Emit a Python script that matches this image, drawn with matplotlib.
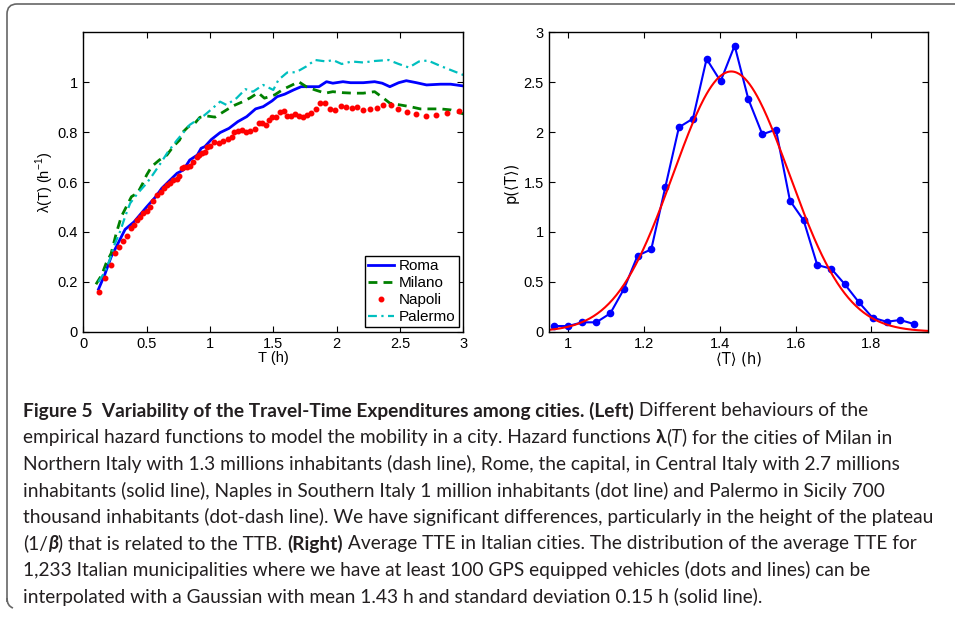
import numpy as np
import matplotlib
matplotlib.use('Agg')
import matplotlib.pyplot as plt
from matplotlib import font_manager
from matplotlib.path import Path
from matplotlib.patches import PathPatch

# hazard functions lambda(T)
roma_t = [0.12, 0.17, 0.22, 0.28, 0.33, 0.40, 0.45, 0.50, 0.57, 0.62,
          0.66, 0.74, 0.79, 0.84, 0.90, 0.93, 0.96, 1.01, 1.08, 1.15,
          1.22, 1.29, 1.36, 1.42, 1.49, 1.53, 1.59, 1.66, 1.72, 1.80,
          1.86, 1.92, 1.97, 2.05, 2.11, 2.21, 2.30, 2.36, 2.42, 2.49,
          2.55, 2.63, 2.71, 2.82, 2.90, 3.00]
roma_l = [0.17, 0.23, 0.30, 0.36, 0.41, 0.44, 0.47, 0.50, 0.54, 0.575,
          0.595, 0.635, 0.648, 0.688, 0.708, 0.735, 0.742, 0.77, 0.798, 0.815,
          0.842, 0.862, 0.893, 0.902, 0.925, 0.942, 0.952, 0.969, 0.982, 0.982,
          0.982, 1.002, 0.996, 1.002, 0.998, 0.998, 1.002, 0.996, 0.982, 0.998,
          1.006, 0.998, 0.989, 0.992, 0.992, 0.985]

milano_t = [0.10, 0.145, 0.18, 0.22, 0.26, 0.30, 0.34, 0.38, 0.43, 0.47,
            0.50, 0.54, 0.60, 0.66, 0.71, 0.76, 0.79, 0.83, 0.88, 0.92,
            0.97, 1.04, 1.08, 1.15, 1.20, 1.26, 1.32, 1.38, 1.43, 1.51,
            1.58, 1.65, 1.70, 1.76, 1.83, 1.91, 1.97, 2.05, 2.13, 2.21,
            2.30, 2.37, 2.42, 2.50, 2.58, 2.66, 2.74, 2.82, 2.90, 3.00]
milano_l = [0.19, 0.227, 0.274, 0.314, 0.394, 0.461, 0.501, 0.541, 0.557, 0.595,
            0.628, 0.662, 0.688, 0.708, 0.742, 0.768, 0.802, 0.822, 0.835, 0.859,
            0.865, 0.86, 0.873, 0.895, 0.909, 0.922, 0.938, 0.958, 0.936, 0.949,
            0.972, 0.989, 1.002, 0.982, 0.969, 0.956, 0.962, 0.958, 0.956, 0.956,
            0.962, 0.936, 0.916, 0.909, 0.902, 0.893, 0.893, 0.893, 0.889, 0.873]

napoli_t = [0.124, 0.171, 0.216, 0.253, 0.284, 0.311, 0.342, 0.374, 0.40, 0.426,
            0.447, 0.474, 0.50, 0.526, 0.553, 0.584, 0.613, 0.639, 0.663, 0.684,
            0.711, 0.737, 0.758, 0.776, 0.797, 0.821, 0.842, 0.868, 0.895, 0.916,
            0.937, 0.958, 0.979, 1.0, 1.035, 1.071, 1.106, 1.145, 1.172, 1.193,
            1.224, 1.256, 1.282, 1.316, 1.356, 1.387, 1.413, 1.44, 1.466, 1.492,
            1.524, 1.55, 1.582, 1.608, 1.639, 1.671, 1.703, 1.735, 1.766, 1.798,
            1.835, 1.871, 1.908, 1.948, 1.987, 2.032, 2.074, 2.119, 2.163, 2.21,
            2.263, 2.316, 2.369, 2.426, 2.487, 2.558, 2.626, 2.705, 2.784, 2.874,
            2.968]
napoli_l = [0.16, 0.217, 0.267, 0.314, 0.341, 0.364, 0.384, 0.414, 0.428, 0.446,
            0.461, 0.474, 0.485, 0.501, 0.524, 0.547, 0.561, 0.577, 0.588, 0.595,
            0.608, 0.611, 0.624, 0.655, 0.659, 0.662, 0.664, 0.682, 0.702, 0.708,
            0.715, 0.722, 0.742, 0.744, 0.762, 0.755, 0.765, 0.771, 0.782, 0.802,
            0.806, 0.809, 0.802, 0.806, 0.811, 0.835, 0.838, 0.829, 0.849, 0.862,
            0.862, 0.882, 0.886, 0.865, 0.865, 0.873, 0.865, 0.859, 0.869, 0.878,
            0.891, 0.915, 0.915, 0.893, 0.889, 0.906, 0.902, 0.895, 0.899, 0.889,
            0.891, 0.898, 0.909, 0.909, 0.891, 0.882, 0.871, 0.865, 0.87, 0.878,
            0.886]

palermo_t = [0.12, 0.17, 0.21, 0.24, 0.29, 0.33, 0.37, 0.43, 0.50, 0.55,
             0.61, 0.67, 0.74, 0.79, 0.84, 0.90, 0.95, 0.99, 1.08, 1.13,
             1.21, 1.28, 1.34, 1.42, 1.50, 1.54, 1.61, 1.68, 1.76, 1.83,
             1.92, 1.97, 2.04, 2.12, 2.21, 2.30, 2.41, 2.49, 2.57, 2.65,
             2.72, 2.82, 2.91, 3.00]
palermo_l = [0.20, 0.24, 0.29, 0.341, 0.401, 0.461, 0.515, 0.555, 0.595, 0.63,
             0.675, 0.722, 0.768, 0.798, 0.829, 0.849, 0.865, 0.882, 0.922, 0.909,
             0.936, 0.972, 0.962, 0.989, 0.969, 1.009, 1.039, 1.04, 1.063, 1.089,
             1.083, 1.089, 1.073, 1.083, 1.079, 1.085, 1.089, 1.073, 1.059, 1.083,
             1.087, 1.065, 1.047, 1.029]

# distribution of the average TTE, right panel
tte_x = [0.963, 1.0, 1.037, 1.074, 1.111, 1.147, 1.183, 1.219, 1.256, 1.292,
         1.329, 1.365, 1.402, 1.439, 1.475, 1.512, 1.548, 1.585, 1.621, 1.657,
         1.694, 1.73, 1.767, 1.803, 1.84, 1.876, 1.912]
tte_p = [0.057, 0.057, 0.094, 0.094, 0.184, 0.428, 0.762, 0.825, 1.447, 2.048,
         2.135, 2.733, 2.509, 2.867, 2.332, 1.978, 2.025, 1.313, 1.116, 0.668,
         0.631, 0.474, 0.294, 0.14, 0.1, 0.117, 0.077]
gauss_mean = 1.43
gauss_sd = 0.153

# fonts
installed = set(f.name for f in font_manager.fontManager.ttflist)
plot_font = 'Liberation Sans' if 'Liberation Sans' in installed else 'DejaVu Sans'
cap_font = 'Lato' if 'Lato' in installed else 'Open Sans'
plt.rcParams['font.family'] = [plot_font, 'DejaVu Sans']
plt.rcParams['mathtext.fontset'] = 'custom'
plt.rcParams['mathtext.rm'] = plot_font

W, H = 955, 621
fig = plt.figure(figsize=(W / 100, H / 100), dpi=100)

def px_axes(x0, y0, x1, y1):
    return fig.add_axes([x0 / W, 1 - y1 / H, (x1 - x0) / W, (y1 - y0) / H])

def matlab_look(ax):
    ax.tick_params(direction='in', top=True, right=True, length=4, width=0.8,
                   labelsize=10.5, pad=4, colors='black')
    for s in ax.spines.values():
        s.set_linewidth(1.0)
        s.set_color('black')

# ---- left panel ----
ax1 = px_axes(83.3, 32.3, 463.3, 331.7)
ax1.plot(roma_t, roma_l, '-', color='#0000ff', lw=2.0, label='Roma')
ax1.plot(milano_t, milano_l, '--', color='#008000', lw=2.0, dashes=(3.2, 2.2), label='Milano')
ax1.plot(napoli_t, napoli_l, '.', color='#ff0000', ms=6.5, label='Napoli')
ax1.plot(palermo_t, palermo_l, '-.', color='#00bfbf', lw=1.6, dashes=(4, 2, 1, 2), label='Palermo')
ax1.set_xlim(0, 3)
ax1.set_ylim(0, 1.2)
ax1.set_xticks([0, 0.5, 1, 1.5, 2, 2.5, 3])
ax1.set_xticklabels(['0', '0.5', '1', '1.5', '2', '2.5', '3'])
ax1.set_yticks([0, 0.2, 0.4, 0.6, 0.8, 1])
ax1.set_yticklabels(['0', '0.2', '0.4', '0.6', '0.8', '1'])
ax1.set_xlabel('T (h)', fontsize=10.5, labelpad=0)
ax1.set_ylabel(r'λ(T) (h$^{-1}$)', fontsize=10.5, labelpad=1)
matlab_look(ax1)
leg = ax1.legend(loc='lower right', fontsize=11, numpoints=1, handlelength=1.7,
                 handletextpad=0.3, labelspacing=0.2, borderpad=0.2,
                 borderaxespad=0.3, fancybox=False, framealpha=1, edgecolor='black')
leg.get_frame().set_linewidth(1.0)

# ---- right panel ----
ax2 = px_axes(549.3, 32.3, 928.3, 331.7)
gx = np.linspace(0.95, 1.95, 300)
gy = np.exp(-0.5 * ((gx - gauss_mean) / gauss_sd) ** 2) / (gauss_sd * np.sqrt(2 * np.pi))
ax2.plot(tte_x, tte_p, '-o', color='#0000ff', lw=1.5, ms=4.5)
ax2.plot(gx, gy, '-', color='#ff0000', lw=1.5)
ax2.set_xlim(0.95, 1.95)
ax2.set_ylim(0, 3)
ax2.set_xticks([1, 1.2, 1.4, 1.6, 1.8])
ax2.set_xticklabels(['1', '1.2', '1.4', '1.6', '1.8'])
ax2.set_yticks([0, 0.5, 1, 1.5, 2, 2.5, 3])
ax2.set_yticklabels(['0', '0.5', '1', '1.5', '2', '2.5', '3'])
ax2.set_xlabel('⟨T⟩ (h)', fontsize=10.5, labelpad=0, family=['DejaVu Sans'])
ax2.set_ylabel('p(⟨T⟩)', fontsize=10.5, labelpad=3.5, family=['DejaVu Sans'])
matlab_look(ax2)

# ---- rounded frame around figure + caption ----
r = 10
verts = [(7, 602), (7, 598), (7, 4 + r), (7, 4), (7 + r, 4), (W + 5, 4)]
codes = [Path.MOVETO, Path.LINETO, Path.LINETO, Path.CURVE3, Path.CURVE3, Path.LINETO]
verts = [(x / W, 1 - y / H) for x, y in verts]
fig.patches.append(PathPatch(Path(verts, codes), fill=False, edgecolor='#666666',
                             lw=1.2, transform=fig.transFigure))
hook = [(7, 598), (7, 606), (13, 608)]
hook = [(x / W, 1 - y / H) for x, y in hook]
fig.patches.append(PathPatch(Path(hook, [Path.MOVETO, Path.CURVE3, Path.CURVE3]),
                             fill=False, edgecolor='#666666', lw=1.2,
                             transform=fig.transFigure))

N, B = 'normal', 'bold'
caption = [
    [('Figure 5  Variability of the Travel-Time Expenditures among cities. (Left)', B, 'normal'),
     (' Different behaviours of the', N, 'normal')],
    [('empirical hazard functions to model the mobility in a city. Hazard functions ', N, 'normal'),
     ('λ', B, 'normal'), ('(', N, 'normal'), ('T', N, 'italic'),
     (') for the cities of Milan in', N, 'normal')],
    [('Northern Italy with 1.3 millions inhabitants (dash line), Rome, the capital, in Central Italy with 2.7 millions', N, 'normal')],
    [('inhabitants (solid line), Naples in Southern Italy 1 million inhabitants (dot line) and Palermo in Sicily 700', N, 'normal')],
    [('thousand inhabitants (dot-dash line). We have significant differences, particularly in the height of the plateau', N, 'normal')],
    [('(1/', N, 'normal'), ('β', B, 'italic'), (') that is related to the TTB. ', N, 'normal'),
     ('(Right)', B, 'normal'),
     (' Average TTE in Italian cities. The distribution of the average TTE for', N, 'normal')],
    [('1,233 Italian municipalities where we have at least 100 GPS equipped vehicles (dots and lines) can be', N, 'normal')],
    [('interpolated with a Gaussian with mean 1.43 h and standard deviation 0.15 h (solid line).', N, 'normal')],
]
line_y = [411, 437.5, 464, 490.5, 517, 543.5, 570, 596.5]

renderer = fig.canvas.get_renderer()

# size the caption font so the longest line spans like the original (23 -> 931 px)
probe = fig.text(0, 0, caption[4][0][0], fontsize=12, family=[cap_font, 'DejaVu Sans'])
w12 = probe.get_window_extent(renderer).width
probe.remove()
cap_size = 12 * 908 / w12

for segs, yy in zip(caption, line_y):
    x = 23
    for s, wgt, sty in segs:
        t = fig.text(x / W, 1 - yy / H, s, fontsize=cap_size, fontweight=wgt, style=sty,
                     family=[cap_font, 'DejaVu Sans'], color='#231f20', va='center', ha='left')
        x += t.get_window_extent(renderer).width

fig.savefig('out.png', dpi=100)
